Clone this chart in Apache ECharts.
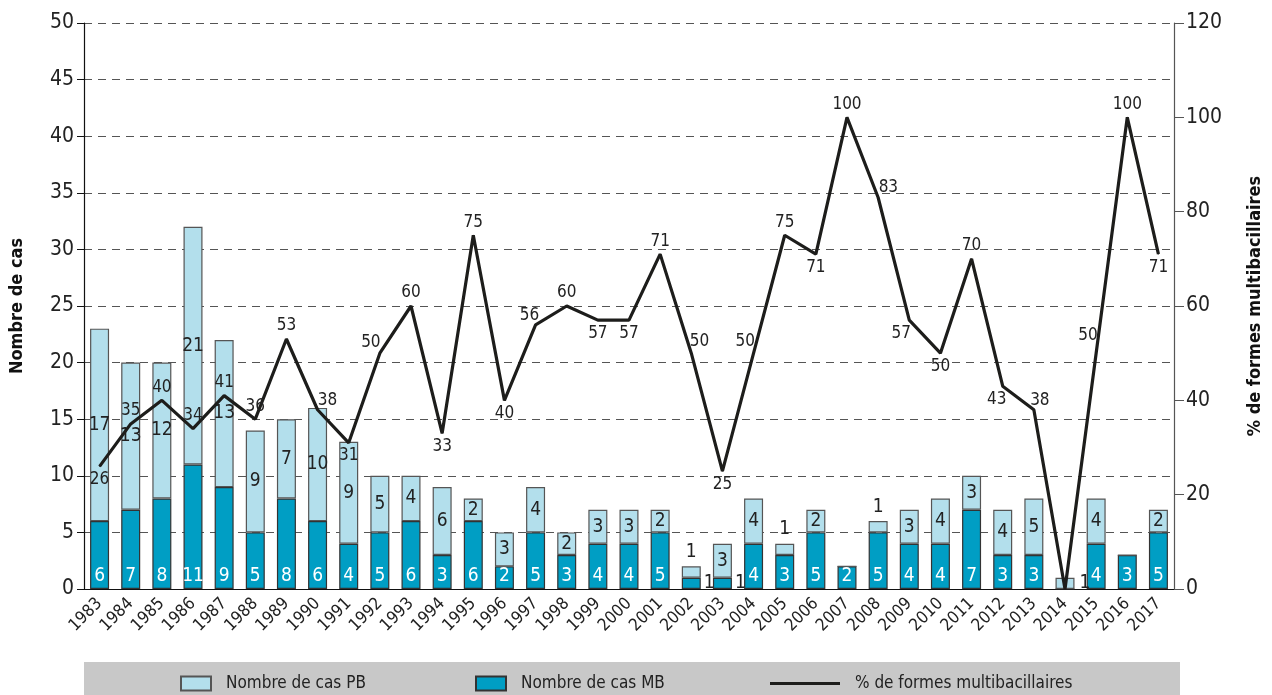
<!DOCTYPE html>
<html>
<head>
<meta charset="utf-8">
<script src="https://cdn.jsdelivr.net/npm/echarts@6/dist/echarts.min.js"></script>
<style>
  html, body { margin: 0; padding: 0; background: #fff; }
  #main { width: 1272px; height: 695px; }
</style>
</head>
<body>
<div id="main"></div>
<script>
var years = ['1983', '1984', '1985', '1986', '1987', '1988', '1989', '1990', '1991', '1992',
  '1993', '1994', '1995', '1996', '1997', '1998', '1999', '2000', '2001', '2002',
  '2003', '2004', '2005', '2006', '2007', '2008', '2009', '2010', '2011', '2012',
  '2013', '2014', '2015', '2016', '2017'];

var casMB = [6, 7, 8, 11, 9, 5, 8, 6, 4, 5, 6, 3, 6, 2, 5, 3, 4, 4, 5, 1,
  1, 4, 3, 5, 2, 5, 4, 4, 7, 3, 3, 0, 4, 3, 5];

var casPB = [17, 13, 12, 21, 13, 9, 7, 10, 9, 5, 4, 6, 2, 3, 4, 2, 3, 3, 2, 1,
  3, 4, 1, 2, 0, 1, 3, 4, 3, 4, 5, 1, 4, 0, 2];

var pctMB = [26, 35, 40, 34, 41, 36, 53, 38, 31, 50, 60, 33, 75, 40, 56, 60, 57, 57, 71, 50,
  25, 50, 75, 71, 100, 83, 57, 50, 70, 43, 38, 0, 50, 100, 71];

(function (echarts) {
  'use strict';

  var FONT = "'Liberation Sans Narrow', 'DejaVu Sans Condensed', 'Arial Narrow', sans-serif";
  var INK = '#222';

  // where the % labels sit, per year (default: above the point)
  var pctPlace = {
    '1983': ['bottom'], '1990': ['top', [10, 4]], '1991': ['bottom'],
    '1992': ['top', [-9, 2]], '1994': ['bottom'], '1996': ['bottom'],
    '1997': ['top', [-6, 4]], '1999': ['bottom'], '2000': ['bottom'],
    '2002': ['right', [-6, -12]], '2003': ['bottom'], '2004': ['left', [6, -12]],
    '2006': ['bottom'], '2008': ['right', [-4, -10]], '2009': ['bottom', [-8, 0]],
    '2010': ['bottom'], '2012': ['bottom', [-6, 0]], '2013': ['top', [6, 4]],
    '2015': ['left', [6, -18]], '2017': ['bottom']
  };
  // bars whose labels do not fit inside
  var pbPlace = {'2002': 'top', '2005': 'top', '2008': 'top', '2014': 'right'};
  var mbPlace = {'2002': 'right', '2003': 'right'};

  var pctData = pctMB.map(function (v, i) {
    var p = pctPlace[years[i]] || ['top'];
    return {
      value: v,
      label: {show: v > 0, position: p[0], offset: p[1] || [0, 0]}
    };
  });

  var pbData = casPB.map(function (v, i) {
    var pos = pbPlace[years[i]];
    return {value: v, label: {show: v > 0, position: pos || 'inside'}};
  });

  var mbData = casMB.map(function (v, i) {
    var pos = mbPlace[years[i]];
    return {
      value: v,
      label: pos ? {show: true, position: pos, color: INK, distance: 3}
                 : {show: v > 0, position: 'insideBottom', color: '#fff', distance: 3}
    };
  });

  var legendText = {fontFamily: FONT, fontSize: 17, color: INK, padding: [0, 0, 0, 10]};

  echarts.init(document.getElementById('main')).setOption({
    backgroundColor: '#fff',
    animation: false,
    textStyle: {fontFamily: FONT},
    graphic: [{
      type: 'rect',
      shape: {x: 84, y: 662, width: 1096, height: 33},
      style: {fill: '#c8c8c8'},
      z: -1
    }],
    legend: [
      {data: [{name: 'Nombre de cas PB', icon: 'rect'}], left: 175, top: 670,
        itemWidth: 30, itemHeight: 14, textStyle: legendText},
      {data: [{name: 'Nombre de cas MB', icon: 'rect'}], left: 470, top: 670,
        itemWidth: 30, itemHeight: 14, textStyle: legendText},
      {data: [{name: '% de formes multibacillaires', icon: 'rect'}], left: 765, top: 670,
        itemWidth: 70, itemHeight: 3, textStyle: legendText}
    ],
    grid: {left: 84, right: 93, top: 23, bottom: 106},
    xAxis: {
      type: 'category',
      data: years,
      axisLine: {lineStyle: {color: '#111', width: 1.2}},
      axisTick: {length: 8, lineStyle: {color: '#111'}},
      axisLabel: {rotate: 45, fontSize: 17, color: INK, margin: 12, interval: 0}
    },
    yAxis: [{
      type: 'value',
      min: 0, max: 50, interval: 5,
      name: 'Nombre de cas',
      nameLocation: 'middle',
      nameRotate: 90,
      nameGap: 58,
      nameTextStyle: {fontSize: 18, fontWeight: 'bold', color: '#111'},
      axisLine: {show: true, lineStyle: {color: '#111', width: 1.2}},
      axisTick: {show: true, length: 7, lineStyle: {color: '#111'}},
      axisLabel: {fontSize: 21, color: INK, margin: 10},
      splitLine: {lineStyle: {color: '#555', type: [8, 6], width: 1}}
    }, {
      type: 'value',
      min: 0, max: 120, interval: 20,
      position: 'right',
      name: '% de formes multibacillaires',
      nameLocation: 'middle',
      nameRotate: 90,
      nameGap: 72,
      nameTextStyle: {fontSize: 18, fontWeight: 'bold', color: '#111'},
      axisLine: {show: true, lineStyle: {color: '#555', width: 1.2}},
      axisTick: {show: true, length: 10, lineStyle: {color: '#555'}},
      axisLabel: {fontSize: 21, color: INK, margin: 12},
      splitLine: {show: false}
    }],
    series: [{
      name: 'Nombre de cas MB',
      type: 'bar',
      stack: 'cas',
      barWidth: 19,
      itemStyle: {color: '#009ec4', borderColor: '#333', borderWidth: 1.2},
      label: {fontSize: 19},
      data: mbData
    }, {
      name: 'Nombre de cas PB',
      type: 'bar',
      stack: 'cas',
      barWidth: 19,
      itemStyle: {color: '#b3dfec', borderColor: '#555', borderWidth: 1.2},
      label: {fontSize: 19, color: INK},
      data: pbData
    }, {
      name: '% de formes multibacillaires',
      type: 'line',
      yAxisIndex: 1,
      symbol: 'circle',
      symbolSize: 1,
      z: 5,
      itemStyle: {color: '#1d1d1b'},
      lineStyle: {color: '#1d1d1b', width: 3.2},
      label: {fontSize: 17, color: INK, distance: 4},
      data: pctData
    }]
  });
})(window.echarts);
</script>
</body>
</html>
